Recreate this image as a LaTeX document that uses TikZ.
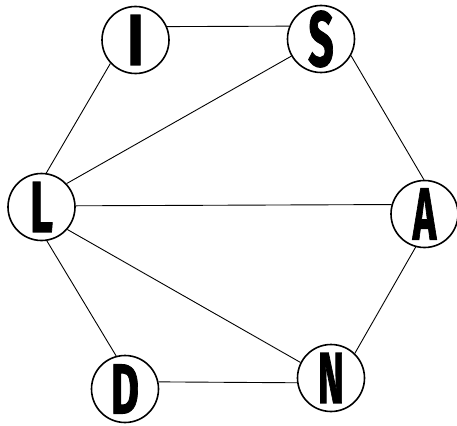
\documentclass[tikz,border=0pt]{standalone}
\usepackage{fontspec}
\setmainfont{Fira Sans}
\newfontfamily\letterfont{Fira Sans}[FakeBold=1.6]
\begin{document}
\begin{tikzpicture}[x=1pt,y=-1pt,
  letter/.style={circle, draw, line width=1.6pt, minimum size=67pt, inner sep=0pt,
    font=\letterfont\fontsize{72}{72}\selectfont\bfseries},
  edge/.style={line width=0.9pt}]
\useasboundingbox (0,0) rectangle (457,425);
\node[letter] (I) at (135.5,40) {\scalebox{0.8}[1]{I}};
\node[letter] (S) at (321,39) {\scalebox{0.62}[1.08]{S}};
\node[letter] (L) at (41.5,207) {\scalebox{0.62}[1]{L}};
\node[letter] (A) at (424.5,214) {\scalebox{0.55}[1.02]{A}};
\node[letter] (D) at (125,389) {\scalebox{0.6}[0.98]{D}};
\node[letter] (N) at (331,378) {\scalebox{0.55}[1]{N}};
\draw[edge] (I.23) -- (S.158);
\draw[edge] (I.223) -- (L.82);
\draw[edge] (S.210) -- (L.43);
\draw[edge] (S.331) -- (A.91);
\draw[edge] (L.2) -- (A.164);
\draw[edge] (L.319) -- (N.153);
\draw[edge] (L.279) -- (D.105);
\draw[edge] (A.255) -- (N.46);
\draw[edge] (D.12) -- (N.188);
\end{tikzpicture}
\end{document}
